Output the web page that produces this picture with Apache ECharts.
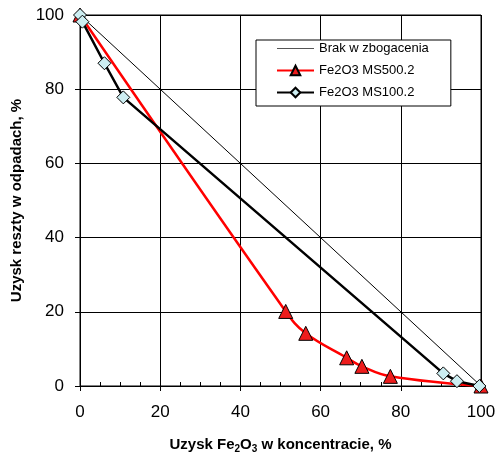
<!DOCTYPE html>
<html>
<head>
<meta charset="utf-8">
<script src="https://cdn.jsdelivr.net/npm/echarts@6/dist/echarts.min.js"></script>
<style>
  html, body { margin: 0; padding: 0; background: #fff; }
  #chart { width: 495px; height: 458px; }
</style>
</head>
<body>
<div id="chart"></div>
<script>
// dane
const brakX = [0, 100];
const brakY = [100, 0];
const ms500X = [0, 51.3, 56.3, 66.5, 70.3, 77.4, 100];
const ms500Y = [100, 20.1, 14.2, 7.6, 5.3, 2.6, 0];
const ms100X = [0, 0.6, 6.1, 10.8, 90.6, 94.0, 99.6];
const ms100Y = [100, 98.2, 87.0, 77.8, 3.4, 1.3, 0];

const pairs = (xs, ys) => xs.map((x, i) => [x, ys[i]]);

const chart = echarts.init(document.getElementById('chart'));
const font = 'Liberation Sans, Arial, sans-serif';

let option = {
  animation: false,
  backgroundColor: '#fff',
  textStyle: { fontFamily: font },
  grid: {
    left: 80, right: 14, top: 15, bottom: 72,
    outerBoundsMode: 'none',
    containLabel: false,
    show: true, borderColor: '#000', borderWidth: 1
  },
  legend: {
    orient: 'vertical',
    left: 256, top: 40,
    backgroundColor: '#fff',
    borderColor: '#000', borderWidth: 1,
    padding: [2, 22, 7, 20],
    itemGap: 9,
    itemWidth: 37, itemHeight: 12,
    textStyle: { fontFamily: font, fontSize: 13, color: '#000' },
    data: [
      { name: 'Brak w zbogacenia', icon: 'path://M0,5.5 L36,5.5 L36,6.5 L0,6.5 Z', itemStyle: { color: '#555' } },
      'Fe2O3 MS500.2',
      'Fe2O3 MS100.2'
    ]
  },
  xAxis: [
    {
      type: 'value', min: 0, max: 100, interval: 20,
      name: '{b|Uzysk Fe}{s|2}{b|O}{s|3}{b| w koncentracie, %}',
      nameLocation: 'middle', nameGap: 49,
      nameTextStyle: {
        rich: {
          b: { fontFamily: font, fontSize: 15, fontWeight: 'bold', color: '#000' },
          s: { fontFamily: font, fontSize: 10, fontWeight: 'bold', color: '#000', verticalAlign: 'bottom', padding: [9, 0, 0, 0] }
        }
      },
      axisLine: { lineStyle: { color: '#000', width: 1 } },
      axisTick: { show: true, inside: false, length: 5, lineStyle: { color: '#000' } },
      axisLabel: { color: '#000', fontSize: 17, fontFamily: font, margin: 18 },
      splitLine: { show: true, lineStyle: { color: '#000', width: 1 } }
    },
    {
      type: 'value', min: 0, max: 100, interval: 20, position: 'bottom',
      axisLine: { show: false },
      axisTick: { show: true, inside: true, length: 5, lineStyle: { color: '#000' } },
      minorTick: { show: true, splitNumber: 4, length: 4, lineStyle: { color: '#000' } },
      axisLabel: { show: false },
      splitLine: { show: false }
    }
  ],
  yAxis: [
    {
      type: 'value', min: 0, max: 100, interval: 20,
      name: 'Uzysk reszty w odpadach, %',
      nameLocation: 'middle', nameGap: 56,
      nameTextStyle: { fontFamily: font, fontSize: 15, fontWeight: 'bold', color: '#000' },
      axisLine: { lineStyle: { color: '#000', width: 1 } },
      axisTick: { show: true, inside: false, length: 5, lineStyle: { color: '#000' } },
      axisLabel: { color: '#000', fontSize: 17, fontFamily: font, margin: 16 },
      splitLine: { show: true, lineStyle: { color: '#000', width: 1 } }
    },
    {
      type: 'value', min: 0, max: 100, interval: 20, position: 'left',
      axisLine: { show: false },
      axisTick: { show: true, inside: true, length: 5, lineStyle: { color: '#000' } },
      axisLabel: { show: false },
      splitLine: { show: false }
    }
  ],
  series: [
    {
      name: 'Brak w zbogacenia', type: 'line',
      data: pairs(brakX, brakY),
      symbol: 'none',
      lineStyle: { color: '#000', width: 1 },
      itemStyle: { color: '#000' },
      z: 2
    },
    {
      name: 'Fe2O3 MS500.2', type: 'line',
      data: pairs(ms500X, ms500Y),
      smooth: 0.4,
      symbol: 'triangle', symbolSize: 14,
      lineStyle: { color: '#ff0000', width: 2.5 },
      itemStyle: { color: '#ee1c1c', borderColor: '#000', borderWidth: 1 },
      z: 3
    },
    {
      name: 'Fe2O3 MS100.2', type: 'line',
      data: pairs(ms100X, ms100Y),
      symbol: 'diamond', symbolSize: 13,
      lineStyle: { color: '#000', width: 2.5 },
      itemStyle: { color: '#cdeef2', borderColor: '#000', borderWidth: 1 },
      z: 4
    }
  ]
};

chart.setOption(option);
</script>
</body>
</html>
